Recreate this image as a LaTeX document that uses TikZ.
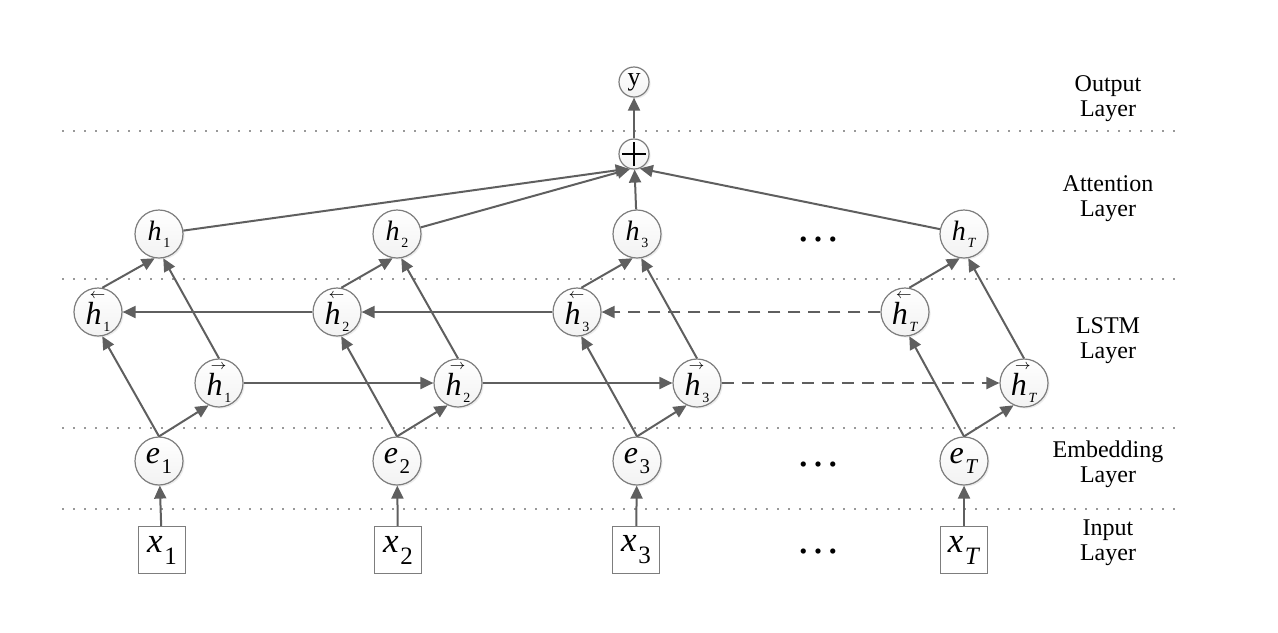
\documentclass[tikz,border=0pt]{standalone}
\usepackage{fontspec}
\setmainfont{Liberation Serif}
\usetikzlibrary{arrows.meta,shadows}
\definecolor{linegray}{RGB}{95,95,95}
\definecolor{rimgray}{RGB}{125,125,125}
\newcommand{\vsub}[4]{\textit{#1}\kern0.8pt\raisebox{-#4}{\fontsize{#3}{#3}\selectfont #2}}
\newcommand{\hout}[1]{\vsub{h}{#1}{7}{3.5pt}}
\newcommand{\hbw}[1]{\makebox[0pt][l]{\kern2pt\raisebox{13pt}{\fontsize{7}{7}\selectfont$\leftarrow$}}\vsub{h}{#1}{7}{3.5pt}}
\newcommand{\hfw}[1]{\makebox[0pt][l]{\kern2pt\raisebox{13pt}{\fontsize{7}{7}\selectfont$\rightarrow$}}\vsub{h}{#1}{7}{3.5pt}}
\newcommand{\emb}[1]{\vsub{e}{#1}{10.5}{4.8pt}}
\newcommand{\inp}[1]{\vsub{x}{#1}{12.5}{6pt}}
\begin{document}
\begin{tikzpicture}[x=0.5pt,y=-0.5pt]
    \tikzstyle{unit}=[circle,draw=rimgray,line width=0.6pt,minimum size=24pt,inner sep=0pt,top color=white,bottom color=gray!10,drop shadow={opacity=0.15,shadow xshift=0.8pt,shadow yshift=-0.8pt}]
    \tikzstyle{hunit}=[unit,font=\fontsize{14}{14}\selectfont]
    \tikzstyle{lunit}=[unit,font=\fontsize{16}{16}\selectfont]
    \tikzstyle{eunit}=[unit,font=\fontsize{16}{16}\selectfont]
    \tikzstyle{smallunit}=[unit,minimum size=15pt]
    \tikzstyle{inbox}=[draw=rimgray,line width=0.6pt,minimum size=23.5pt,inner sep=0pt,fill=white,font=\fontsize{17.5}{17.5}\selectfont]
    \tikzstyle{conn}=[draw=linegray,line width=1pt,-{Triangle[length=6.5pt,width=6pt]}]
    \tikzstyle{dashconn}=[conn,dash pattern=on 6pt off 4pt]
    \tikzstyle{sep}=[draw=gray!80,line width=1pt,dash pattern=on 1pt off 4.5pt]
    \tikzstyle{layer}=[align=center,font=\fontsize{12}{12.5}\selectfont]
    \tikzstyle{more}=[inner sep=0pt,font=\fontsize{22}{22}\selectfont]
    \useasboundingbox (0,0) rectangle (1278,632);
    \draw [sep] (62,131) -- (1175,131);
    \draw [sep] (62,279) -- (1175,279);
    \draw [sep] (62,428) -- (1175,428);
    \draw [sep] (62,509) -- (1175,509);
    \node [layer] (outlab) at (1108,99) {Output\\Layer};
    \node [layer] (attlab) at (1108,199) {Attention\\Layer};
    \node [layer] (lstmlab) at (1108,341) {LSTM\\Layer};
    \node [layer] (emblab) at (1108,464) {Embedding\\Layer};
    \node [layer] (inlab) at (1108,543) {Input\\Layer};
    \node [smallunit,font=\fontsize{13}{13}\selectfont] (y) at (634,82) {y};
    \node [smallunit,path picture={
        \draw [black,line width=1.3pt] ([xshift=-6pt]path picture bounding box.center) -- ([xshift=6pt]path picture bounding box.center);
        \draw [black,line width=1.3pt] ([yshift=-5.8pt]path picture bounding box.center) -- ([yshift=5.8pt]path picture bounding box.center);}] (plus) at (634,154) {};
    \node [hunit] (h1) at (159,234) {\hout{1}};
    \node [hunit] (h2) at (397,234) {\hout{2}};
    \node [hunit] (h3) at (637,234) {\hout{3}};
    \node [hunit] (hT) at (964,234) {\hout{\textit{T}}};
    \node [lunit] (hl1) at (98,312) {\hbw{1}};
    \node [lunit] (hl2) at (337,312) {\hbw{2}};
    \node [lunit] (hl3) at (577,312) {\hbw{3}};
    \node [lunit] (hlT) at (905,312) {\hbw{\textit{T}}};
    \node [lunit] (hr1) at (219,383) {\hfw{1}};
    \node [lunit] (hr2) at (458,383) {\hfw{2}};
    \node [lunit] (hr3) at (697,383) {\hfw{3}};
    \node [lunit] (hrT) at (1024,383) {\hfw{\textit{T}}};
    \node [eunit] (e1) at (159,461) {\emb{1}};
    \node [eunit] (e2) at (397,461) {\emb{2}};
    \node [eunit] (e3) at (637,461) {\emb{3}};
    \node [eunit] (eT) at (964,461) {\emb{\textit{T}}};
    \node [inbox] (x1) at (162,550) {\inp{1}};
    \node [inbox] (x2) at (398,550) {\inp{2}};
    \node [inbox] (x3) at (636,550) {\inp{3}};
    \node [inbox] (xT) at (964,550) {\inp{\textit{T}}};
    \node [more] (hdots) at (818,240) {…};
    \node [more] (edots) at (818,465) {…};
    \node [more] (xdots) at (818,552) {…};
    \draw [conn] (x1) -- (e1);
    \draw [conn] (x2) -- (e2);
    \draw [conn] (x3) -- (e3);
    \draw [conn] (xT) -- (eT);
    \draw [conn] (e1.north) -- (hl1.-80);
    \draw [conn] (e2.north) -- (hl2.-80);
    \draw [conn] (e3.north) -- (hl3.-80);
    \draw [conn] (eT.north) -- (hlT.-80);
    \draw [conn] (e1.north) -- (hr1.-115);
    \draw [conn] (e2.north) -- (hr2.-115);
    \draw [conn] (e3.north) -- (hr3.-115);
    \draw [conn] (eT.north) -- (hrT.-115);
    \draw [conn] (hl1.80) -- (h1.-100);
    \draw [conn] (hl2.80) -- (h2.-100);
    \draw [conn] (hl3.80) -- (h3.-100);
    \draw [conn] (hlT.80) -- (hT.-100);
    \draw [conn] (hr1.north) -- (h1.-80);
    \draw [conn] (hr2.north) -- (h2.-80);
    \draw [conn] (hr3.north) -- (h3.-80);
    \draw [conn] (hrT.north) -- (hT.-80);
    \draw [conn] (hr1) -- (hr2);
    \draw [conn] (hr2) -- (hr3);
    \draw [dashconn] (hr3) -- (hrT);
    \draw [conn] (hl2) -- (hl1);
    \draw [conn] (hl3) -- (hl2);
    \draw [dashconn] (hlT) -- (hl3);
    \draw [conn] (h1) -- (plus.-110);
    \draw [conn] (h2) -- (plus.-105);
    \draw [conn] (h3) -- (plus);
    \draw [conn] (hT) -- (plus.-68);
    \draw [conn] (plus) -- (y);
\end{tikzpicture}
\end{document}
